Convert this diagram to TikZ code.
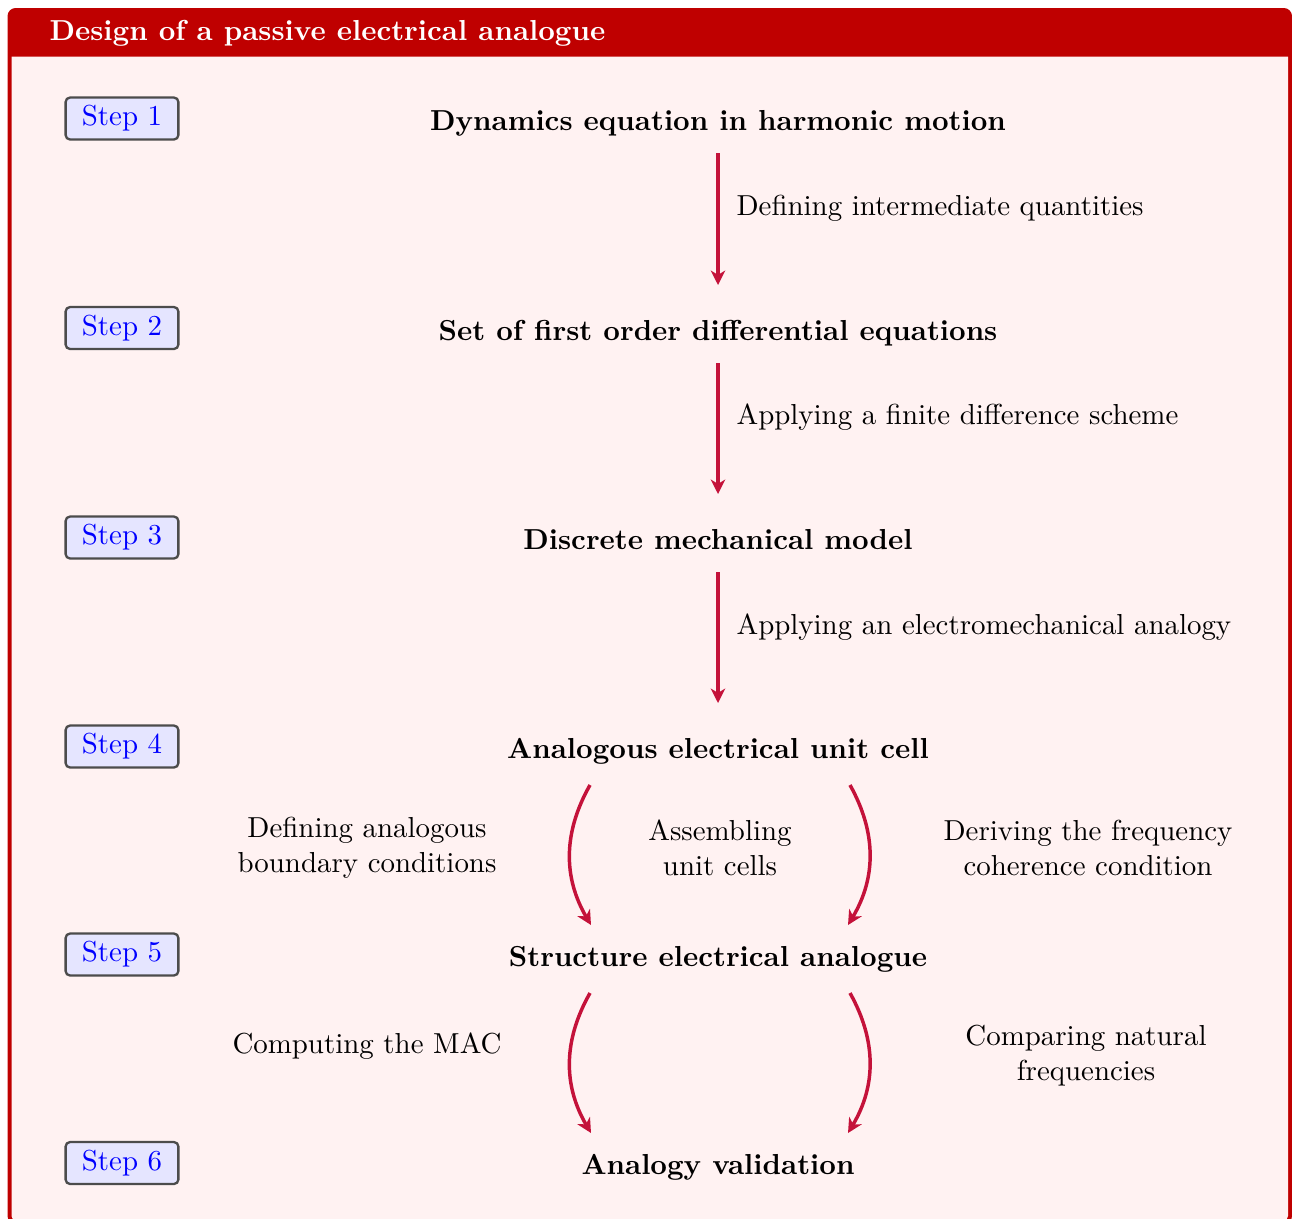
\documentclass[tikz,border=0pt]{standalone}
\usetikzlibrary{arrows.meta,calc}
\definecolor{framec}{RGB}{191,0,0}
\definecolor{backc}{RGB}{255,242,242}
\definecolor{arrc}{RGB}{196,18,58}
\begin{document}
\begin{tikzpicture}[x=0.346pt,y=-0.346pt,
  stepbox/.style={draw=black!70, fill=blue!10, text=blue, rounded corners=1.5pt, line width=0.8pt,
    minimum width=39pt, minimum height=14.5pt, inner sep=0pt},
  mainbox/.style={font=\bfseries, anchor=base, inner sep=0pt},
  lbl/.style={anchor=base, inner sep=0pt, align=center},
  arr/.style={draw=arrc, line width=1.2pt, -{Stealth[length=5pt,width=5pt,inset=1.5pt]}},
]
\useasboundingbox (0,0) rectangle (1292,1218);
% frame
\fill[framec, rounded corners=2.8pt] (7.5,8) rectangle (1292,1224);
\fill[backc] (11.5,56.5) [rounded corners=1.4pt] -- (11.5,1220) -- (1288,1220) [sharp corners] -- (1288,56.5) -- cycle;
\node[anchor=base west, text=white, font=\bfseries, inner sep=0pt] (title) at (49,40) {Design of a passive electrical analogue};
% steps
\node[stepbox] (s1) at (122,118.5) {Step 1};
\node[stepbox] (s2) at (122,328) {Step 2};
\node[stepbox] (s3) at (122,537.5) {Step 3};
\node[stepbox] (s4) at (122,746.5) {Step 4};
\node[stepbox] (s5) at (122,954.5) {Step 5};
\node[stepbox] (s6) at (122,1163) {Step 6};
% main nodes
\node[mainbox] (n1) at (718,130) {Dynamics equation in harmonic motion};
\node[mainbox] (n2) at (718,340) {Set of first order differential equations};
\node[mainbox] (n3) at (718,549) {Discrete mechanical model};
\node[mainbox] (n4) at (718,758) {Analogous electrical unit cell};
\node[mainbox] (n5) at (718,966) {Structure electrical analogue};
\node[mainbox] (n6) at (718,1174) {Analogy validation};
% straight arrows
\draw[arr] ($(n1.base)+(0,23)$) -- ($(n2.base)+(0,-55)$);
\draw[arr] ($(n2.base)+(0,23)$) -- ($(n3.base)+(0,-55)$);
\draw[arr] ($(n3.base)+(0,23)$) -- ($(n4.base)+(0,-55)$);
\node[lbl, anchor=base west] (l1) at (736,215) {Defining intermediate quantities};
\node[lbl, anchor=base west] (l2) at (736,424) {Applying a finite difference scheme};
\node[lbl, anchor=base west] (l3) at (736,634) {Applying an electromechanical analogy};
% curved arrows
\draw[arr] ($(n4.base)+(-128,27)$) to[bend right=30] ($(n5.base)+(-127,-41)$);
\draw[arr] ($(n4.base)+(132,27)$) to[bend left=30] ($(n5.base)+(130,-41)$);
\draw[arr] ($(n5.base)+(-128,27)$) to[bend right=30] ($(n6.base)+(-127,-41)$);
\draw[arr] ($(n5.base)+(132,27)$) to[bend left=30] ($(n6.base)+(130,-41)$);
\node[lbl] (l4) at (367,872) {Defining analogous\\boundary conditions};
\node[lbl] (l5) at (720,875) {Assembling\\unit cells};
\node[lbl] (l6) at (1088,875) {Deriving the frequency\\coherence condition};
\node[lbl] (l7) at (367,1053) {Computing the MAC};
\node[lbl] (l8) at (1086,1080) {Comparing natural\\frequencies};
\end{tikzpicture}
\end{document}
